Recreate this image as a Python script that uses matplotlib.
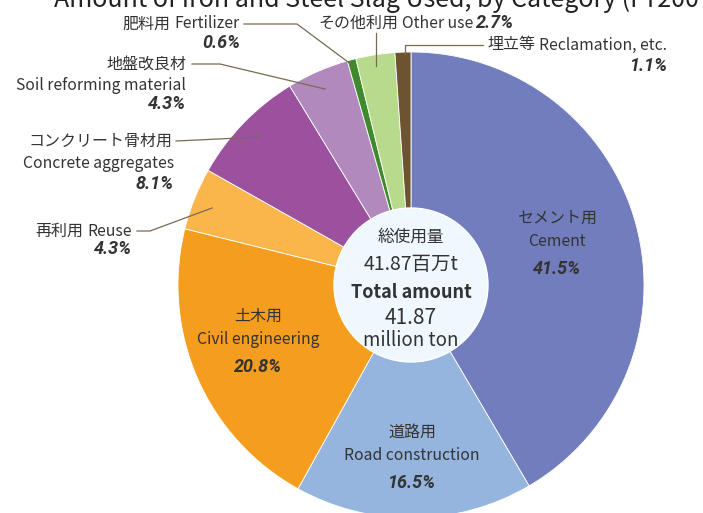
import numpy as np
import matplotlib.pyplot as plt
from matplotlib.patches import Circle

plt.rcParams['font.family'] = ['Noto Sans CJK JP', 'DejaVu Sans']

# data, clockwise from the top
categories_jp = ['セメント用', '道路用', '土木用', '再利用', 'コンクリート骨材用',
                 '地盤改良材', '肥料用', 'その他利用', '埋立等']
categories_en = ['Cement', 'Road construction', 'Civil engineering', 'Reuse',
                 'Concrete aggregates', 'Soil reforming material', 'Fertilizer',
                 'Other use', 'Reclamation, etc.']
shares = [41.5, 16.5, 20.8, 4.3, 8.1, 4.3, 0.6, 2.7, 1.1]
colors = ['#717dbd', '#95b5de', '#f59d1e', '#fbb64b', '#9c519e',
          '#b189bd', '#3e8a2c', '#b8da8d', '#6c5432']
total_jp = '41.87百万t'
total_en = '41.87'

W, H = 703, 513
fig = plt.figure(figsize=(W / 100, H / 100), dpi=100)
ax = fig.add_axes([0, 0, 1, 1])

cx, cy, r = 411, H - 285, 233
ax.pie(shares, colors=colors, startangle=90, counterclock=False,
       center=(cx, cy), radius=r, frame=True,
       wedgeprops=dict(edgecolor='white', linewidth=0.6))
ax.set_xlim(0, W)
ax.set_ylim(0, H)
ax.set_aspect('equal')
ax.axis('off')

ax.add_patch(Circle((cx, cy), 77, facecolor='#eff8fe', edgecolor='white', lw=1, zorder=5))

tc = '#333333'
pct_font = ['Roboto', 'DejaVu Sans']
rend = fig.canvas.get_renderer()


def T(x, y, s, **kw):
    kw.setdefault('color', tc)
    return ax.text(x, H - y, s, zorder=6, **kw)


def pct(x, y, i, ha='center'):
    return T(x, y, f'{shares[i]}%', ha=ha, va='center', fontsize=13,
             fontweight='bold', fontstyle='italic', family=pct_font)


def lead(xs, ys):
    ax.plot(xs, [H - v for v in ys], color='#7a6a50', lw=0.9, zorder=4)


def xdata(px):
    return ax.transData.inverted().transform((px, 0))[0]


jp_kw = dict(va='center', fontsize=11.5)
en_kw = dict(va='center', fontsize=11.3)


def pair_right(x, y, i):
    # "日本語 English" ending at x
    t = T(x, y, categories_en[i], ha='right', **en_kw)
    x0 = xdata(t.get_window_extent(rend).x0)
    T(x0 - 4, y, categories_jp[i], ha='right', **jp_kw)


def pair_left(x, y, i):
    # "日本語 English" starting at x
    t = T(x, y, categories_jp[i], ha='left', **jp_kw)
    x1 = xdata(t.get_window_extent(rend).x1)
    return T(x1 + 4, y, categories_en[i], ha='left', **en_kw)


# labels inside the wedges
for i, (x, y) in {0: (557, 218), 1: (412, 432), 2: (258, 316)}.items():
    T(x, y, categories_jp[i], ha='center', **jp_kw)
    T(x, y + 23, categories_en[i], ha='center', **en_kw)
    pct(x, y + 51, i)

# reuse
pair_right(132, 231, 3)
pct(132, 249, 3, ha='right')
lead([137, 150, 212], [231, 231, 208])

# concrete aggregates
T(172, 141, categories_jp[4], ha='right', **jp_kw)
T(174, 163, categories_en[4], ha='right', **en_kw)
pct(174, 184, 4, ha='right')
lead([176, 260], [141, 137])

# soil reforming
T(186, 64, categories_jp[5], ha='right', **jp_kw)
T(186, 85, categories_en[5], ha='right', **en_kw)
pct(186, 104, 5, ha='right')
lead([192, 220, 325], [64, 64, 89])

# fertilizer
pair_right(240, 24, 6)
pct(240, 43, 6, ha='right')
lead([244, 297, 352], [24, 24, 65])

# other use
t = pair_left(318, 23, 7)
pct(xdata(t.get_window_extent(rend).x1) + 3, 23, 7, ha='left')
lead([376, 376], [33, 66])

# reclamation
pair_left(487, 45, 8)
pct(668, 66, 8, ha='right')
lead([483, 405, 405], [45, 45, 54])

# centre text
T(cx, 237, '総使用量', ha='center', va='center', fontsize=12)
T(cx, 264, total_jp, ha='center', va='center', fontsize=14)
T(cx, 292, 'Total amount', ha='center', va='center', fontsize=13, fontweight='bold')
T(cx, 318, total_en, ha='center', va='center', fontsize=15)
T(cx, 341, 'million ton', ha='center', va='center', fontsize=13.5)

# title, cut off by the top edge
T(388, 7, 'Amount of Iron and Steel Slag Used, by Category (FY2007)',
  ha='center', va='baseline', fontsize=18, color='#222222')

fig.savefig('out.png', dpi=100)
